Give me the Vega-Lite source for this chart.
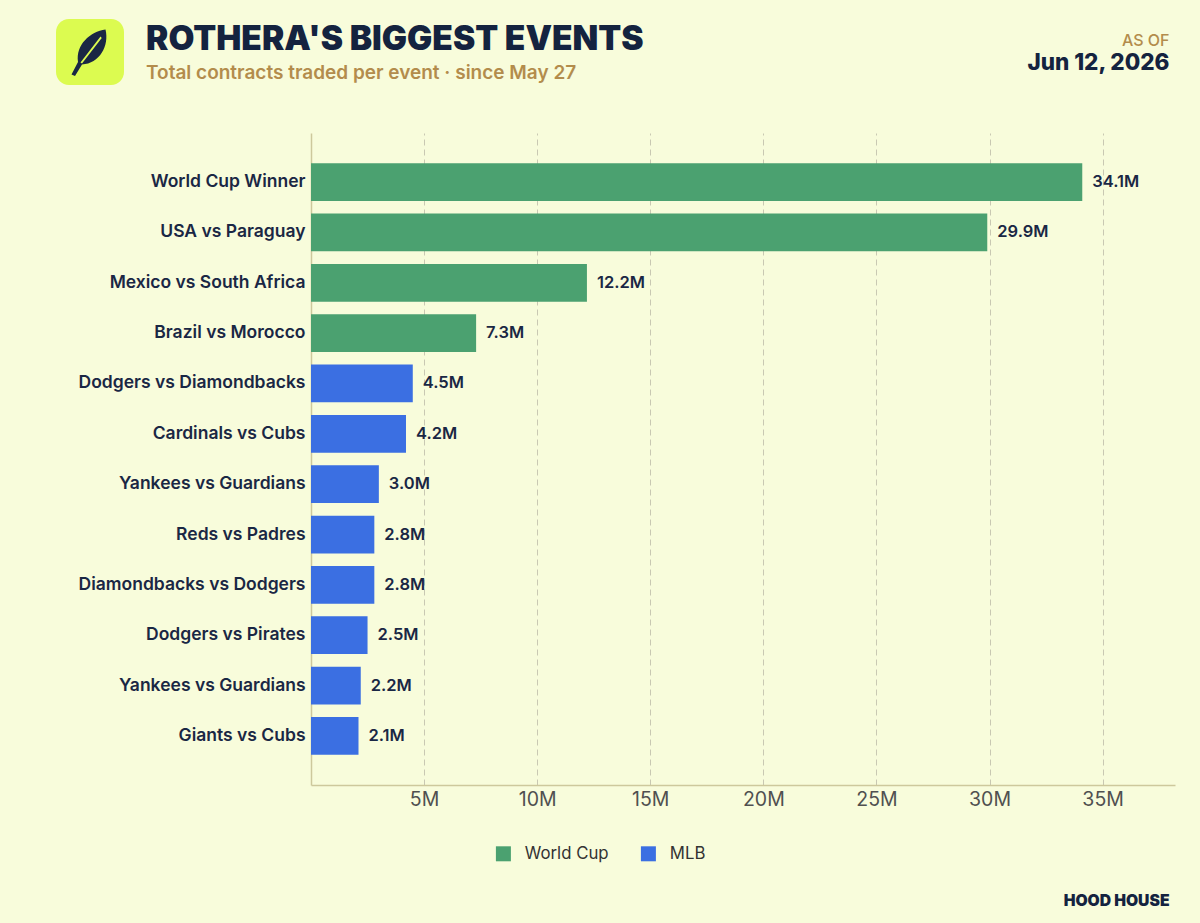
{
  "$schema": "https://vega.github.io/schema/vega-lite/v6.json",
  "width": 864,
  "height": 652,
  "autosize": {"type": "none"},
  "padding": {"left": 311, "top": 133, "right": 25, "bottom": 138},
  "background": "#f8fcdb",
  "title": {
    "text": "ROTHERA'S BIGGEST EVENTS",
    "subtitle": "Total contracts traded per event · since May 27",
    "anchor": "start",
    "frame": "group",
    "dx": -165,
    "offset": -65,
    "font": "Inter",
    "fontSize": 33.5,
    "fontWeight": 900,
    "color": "#14233f",
    "subtitleFont": "Inter",
    "subtitleFontSize": 19,
    "subtitleFontWeight": 600,
    "subtitleColor": "#b38c4c",
    "subtitlePadding": 7
  },
  "data": {
    "values": [
      {"event": "World Cup Winner", "value": 34.1, "label": "34.1M", "type": "World Cup"},
      {"event": "USA vs Paraguay", "value": 29.9, "label": "29.9M", "type": "World Cup"},
      {"event": "Mexico vs South Africa", "value": 12.2, "label": "12.2M", "type": "World Cup"},
      {"event": "Brazil vs Morocco", "value": 7.3, "label": "7.3M", "type": "World Cup"},
      {"event": "Dodgers vs Diamondbacks", "value": 4.5, "label": "4.5M", "type": "MLB"},
      {"event": "Cardinals vs Cubs", "value": 4.2, "label": "4.2M", "type": "MLB"},
      {"event": "Yankees vs Guardians", "value": 3.0, "label": "3.0M", "type": "MLB"},
      {"event": "Reds vs Padres", "value": 2.8, "label": "2.8M", "type": "MLB"},
      {"event": "Diamondbacks vs Dodgers", "value": 2.8, "label": "2.8M", "type": "MLB"},
      {"event": "Dodgers vs Pirates", "value": 2.5, "label": "2.5M", "type": "MLB"},
      {"event": "Yankees vs Guardians\u200b", "value": 2.2, "label": "2.2M", "type": "MLB"},
      {"event": "Giants vs Cubs", "value": 2.1, "label": "2.1M", "type": "MLB"}
    ]
  },
  "resolve": {"axis": {"x": "independent"}},
  "layer": [
    {
      "mark": {"type": "bar"},
      "encoding": {
        "y": {
          "field": "event",
          "type": "nominal",
          "sort": null,
          "scale": {"paddingInner": 0.25, "paddingOuter": 0.6},
          "axis": {
            "title": "Jun 12, 2026",
            "titleAngle": 0,
            "titleX": 858,
            "titleY": -64,
            "titleAlign": "right",
            "titleAnchor": null,
            "titleBaseline": "alphabetic",
            "titleFont": "Inter",
            "titleFontSize": 22.5,
            "titleFontWeight": 800,
            "titleColor": "#14233f",
            "labelFont": "Inter",
            "labelFontSize": 17.5,
            "labelFontWeight": 600,
            "labelColor": "#1a2744",
            "labelPadding": 6,
            "labelLimit": 320,
            "ticks": false,
            "domain": true,
            "domainColor": "#cdc89c",
            "domainWidth": 1.5,
            "grid": false
          }
        },
        "x": {
          "field": "value",
          "type": "quantitative",
          "scale": {"domain": [0, 38.2], "nice": false},
          "axis": {
            "orient": "bottom",
            "values": [5, 10, 15, 20, 25, 30, 35],
            "labelExpr": "datum.value + 'M'",
            "labelFont": "Inter",
            "labelFontSize": 19.5,
            "labelColor": "#505050",
            "labelPadding": 5,
            "ticks": false,
            "domain": true,
            "domainColor": "#cdc89c",
            "domainWidth": 1.5,
            "grid": true,
            "gridColor": "#c9c8b2",
            "gridDash": [6, 4],
            "gridWidth": 1,
            "title": "HOOD HOUSE",
            "titleX": 858,
            "titleY": 120,
            "titleAlign": "right",
            "titleAnchor": null,
            "titleBaseline": "alphabetic",
            "titleFont": "Inter",
            "titleFontSize": 15.7,
            "titleFontWeight": 900,
            "titleColor": "#14233f"
          }
        },
        "color": {
          "field": "type",
          "type": "nominal",
          "scale": {"domain": ["World Cup", "MLB"], "range": ["#4ba170", "#3b6fe2"]},
          "legend": {
            "orient": "none",
            "legendX": 184,
            "legendY": 712,
            "direction": "horizontal",
            "title": null,
            "symbolType": "square",
            "symbolSize": 225,
            "symbolStrokeWidth": 0,
            "labelFont": "Inter",
            "labelFontSize": 16.8,
            "labelColor": "#333333",
            "labelOffset": 13,
            "columnPadding": 31,
            "padding": 0
          }
        }
      }
    },
    {
      "mark": {
        "type": "text",
        "align": "left",
        "baseline": "middle",
        "dx": 10,
        "font": "Inter",
        "fontSize": 16.5,
        "fontWeight": 600,
        "color": "#1a2744"
      },
      "encoding": {
        "y": {"field": "event", "type": "nominal", "sort": null},
        "x": {
          "field": "value",
          "type": "quantitative",
          "axis": {
            "orient": "top",
            "labels": false,
            "ticks": false,
            "domain": false,
            "grid": false,
            "title": "AS OF",
            "titleX": 858,
            "titleY": -88,
            "titleAlign": "right",
            "titleAnchor": null,
            "titleBaseline": "alphabetic",
            "titleFont": "Inter",
            "titleFontSize": 16,
            "titleFontWeight": 500,
            "titleColor": "#b38c4c"
          }
        },
        "text": {"field": "label"},
        "opacity": {
          "datum": "logo",
          "type": "ordinal",
          "scale": {"range": [1]},
          "legend": {
            "orient": "none",
            "legendX": -255,
            "legendY": -114,
            "title": null,
            "fillColor": "#dcfb50",
            "cornerRadius": 13,
            "padding": 9,
            "labelExpr": "''",
            "labelFontSize": 1,
            "labelOffset": 0,
            "symbolType": "M0.62,-0.94C0.0,-0.86,-0.58,-0.32,-0.48,0.36L-0.74,0.86L-0.6,0.92L-0.32,0.46C0.38,0.42,0.78,-0.28,0.62,-0.94Z M-0.38,0.38L0.42,-0.66L0.47,-0.6L-0.32,0.42Z",
            "symbolSize": 2500,
            "symbolFillColor": "#17171c",
            "symbolStrokeWidth": 0,
            "symbolOpacity": 1,
            "encode": {"symbols": {"update": {"fill": {"value": "#17171c"}, "opacity": {"value": 1}}}}
          }
        }
      }
    }
  ],
  "config": {
    "view": {"stroke": null},
    "font": "Inter"
  }
}
